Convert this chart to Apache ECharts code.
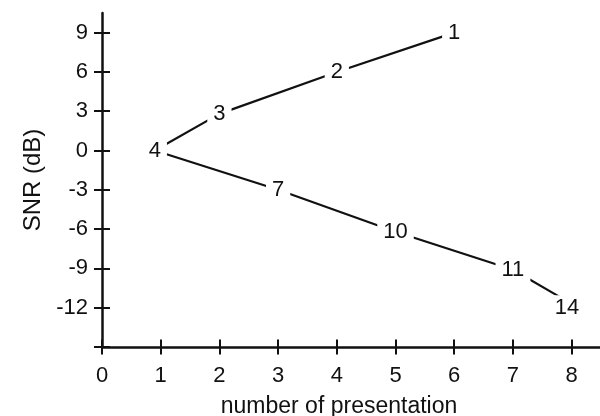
<!DOCTYPE html>
<html>
<head>
<meta charset="utf-8">
<script src="https://cdn.jsdelivr.net/npm/echarts@6/dist/echarts.min.js"></script>
<style>
  html, body { margin: 0; padding: 0; background: #fff; }
  #chart { width: 600px; height: 416px; }
</style>
</head>
<body>
<div id="chart"></div>
<script>
// Presentation order labels and the SNR reached at each step
const presentationLabels = ['1', '2', '3', '4', '7', '10', '11', '14'];
const presentationX = [6, 4, 2, 0.9, 3, 5, 7, 7.92];
const snrValues = [9, 6, 2.8, 0, -3, -6.2, -9.1, -11.5];

const xTicks = [0, 1, 2, 3, 4, 5, 6, 7, 8];
const yTicks = [-15, -12, -9, -6, -3, 0, 3, 6, 9];
const yTickLabels = [-12, -9, -6, -3, 0, 3, 6, 9];

const FONT = '"Liberation Sans", Arial, sans-serif';
const INK = '#111';

const points = presentationX.map((x, i) => {
  const item = { value: [x, snrValues[i]], name: presentationLabels[i] };
  if (presentationLabels[i] === '14') {
    item.label = { offset: [0, 7] };
  }
  return item;
});

const baseX = {
  type: 'value', min: 0, max: 8.5, gridIndex: 0, position: 'bottom',
  splitLine: { show: false }
};
const baseY = {
  type: 'value', min: -15, max: 10.5, gridIndex: 0, position: 'left',
  splitLine: { show: false }
};

const chart = echarts.init(document.getElementById('chart'), null, { renderer: 'canvas' });
chart.setOption({
  animation: false,
  backgroundColor: '#fff',
  grid: { left: 102, top: 13, width: 499, height: 334, containLabel: false, outerBoundsMode: 'none' },
  xAxis: [
    Object.assign({}, baseX, {
      name: 'number of presentation',
      nameLocation: 'middle',
      nameGap: 48,
      nameTextStyle: { fontFamily: FONT, fontSize: 23, color: INK, padding: [0, 25, 0, 0] },
      axisLine: { onZero: false, lineStyle: { color: INK, width: 2.5 } },
      axisTick: { show: true, length: 7.5, inside: false, customValues: xTicks,
        lineStyle: { color: INK, width: 2 } },
      axisLabel: { customValues: xTicks, margin: 18, fontFamily: FONT, fontSize: 22, color: INK }
    }),
    Object.assign({}, baseX, {
      axisLine: { show: false, onZero: false },
      axisTick: { show: true, length: 7.5, inside: true, customValues: xTicks,
        lineStyle: { color: INK, width: 2 } },
      axisLabel: { show: false }
    })
  ],
  yAxis: [
    Object.assign({}, baseY, {
      name: 'SNR (dB)',
      nameLocation: 'middle',
      nameGap: 56,
      nameTextStyle: { fontFamily: FONT, fontSize: 24, color: INK },
      axisLine: { onZero: false, lineStyle: { color: INK, width: 2.5 } },
      axisTick: { show: true, length: 8, inside: false, customValues: yTicks,
        lineStyle: { color: INK, width: 2 } },
      axisLabel: { customValues: yTickLabels, margin: 14, fontFamily: FONT, fontSize: 22, color: INK }
    }),
    Object.assign({}, baseY, {
      axisLine: { show: false, onZero: false },
      axisTick: { show: true, length: 8, inside: true, customValues: yTicks,
        lineStyle: { color: INK, width: 2 } },
      axisLabel: { show: false }
    })
  ],
  series: [{
    type: 'line',
    xAxisIndex: 0,
    yAxisIndex: 0,
    data: points,
    showSymbol: true,
    symbol: 'circle',
    symbolSize: 1,
    itemStyle: { opacity: 0 },
    lineStyle: { color: INK, width: 2.2 },
    label: {
      show: true,
      position: 'inside',
      formatter: p => p.name,
      fontFamily: FONT,
      fontSize: 22,
      color: INK,
      opacity: 1,
      backgroundColor: '#fff',
      padding: [3, 6, 1, 6]
    },
    z: 3
  }]
});
</script>
</body>
</html>
